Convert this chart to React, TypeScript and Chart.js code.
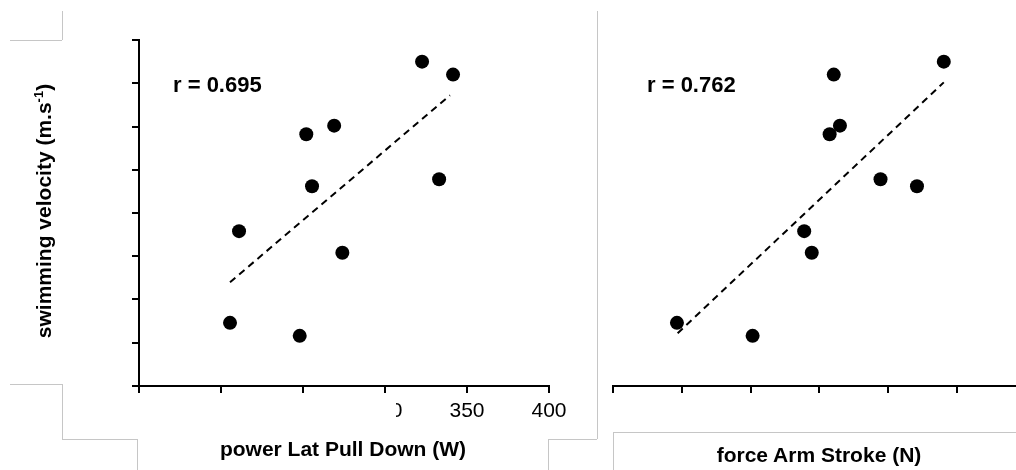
import React, { useEffect, useRef } from "react";
import { Chart, registerables } from "chart.js";

Chart.register(...registerables);

// ---- data ----
const velocity = [1.273, 1.379, 1.258, 1.491, 1.431, 1.501, 1.354, 1.575, 1.439, 1.56];
const powerLatPullDown = [205.5, 211, 248, 252, 255.5, 269, 274, 322.6, 333, 341.5];
const forceArmStroke = [59.3, 77.8, 70.3, 81.5, 94.2, 83.0, 78.9, 98.1, 88.9, 82.1];

const powerTrendX = [205.5, 339.6];
const powerTrendY = [1.32, 1.536];
const forceTrendX = [59.4, 98.1];
const forceTrendY = [1.261, 1.551];

const velocityTicks = [1.2, 1.25, 1.3, 1.35, 1.4, 1.45, 1.5, 1.55, 1.6];
const powerTicks = [150, 200, 250, 300, 350, 400];
const powerTickLabels = ["", "", "", "300", "350", "400"];
const forceTicks = [50, 60, 70, 80, 90, 100];

const rPower = "r = 0.695";
const rForce = "r = 0.762";

const FONT = '"Liberation Sans", Arial, Helvetica, sans-serif';
const W = 1016;
const H = 470;

function pts(xs: number[], ys: number[]) {
  return xs.map((x, i) => ({ x, y: ys[i] }));
}

function axisStyle(tickLen: number) {
  return {
    grid: {
      display: true,
      drawOnChartArea: false,
      drawTicks: true,
      tickLength: tickLen,
      color: "#000",
      lineWidth: 2,
    },
    border: { display: true, color: "#000", width: 2 },
  };
}

function makeConfig(opts: {
  xs: number[];
  trendX: number[];
  trendY: number[];
  xMin: number;
  xMax: number;
  xTicks: number[];
  xLabels: string[] | null;
  showY: boolean;
  padding: { left: number; right: number; top: number; bottom: number };
}): any {
  return {
    type: "scatter",
    data: {
      datasets: [
        {
          type: "scatter",
          data: pts(opts.xs, velocity),
          pointRadius: 7,
          pointHoverRadius: 7,
          pointBackgroundColor: "#000",
          pointBorderWidth: 0,
          borderColor: "#000",
          clip: false,
        },
        {
          type: "line",
          data: pts(opts.trendX, opts.trendY),
          showLine: true,
          borderColor: "#000",
          borderWidth: 2,
          borderDash: [7, 5],
          pointRadius: 0,
          fill: false,
        },
      ],
    },
    options: {
      responsive: false,
      animation: false,
      events: [],
      layout: { padding: opts.padding, autoPadding: false },
      plugins: { legend: { display: false }, tooltip: { enabled: false } },
      scales: {
        x: {
          type: "linear",
          min: opts.xMin,
          max: opts.xMax,
          afterBuildTicks: (s: any) => {
            s.ticks = opts.xTicks.map((v) => ({ value: v }));
          },
          afterFit: (s: any) => {
            s.height = 44;
          },
          ticks: {
            display: !!opts.xLabels,
            color: "#000",
            padding: 6,
            maxRotation: 0,
            autoSkip: false,
            font: { family: FONT, size: 21 },
            callback: (v: number) => {
              const i = opts.xTicks.indexOf(v);
              return opts.xLabels && i >= 0 ? opts.xLabels[i] : "";
            },
          },
          ...axisStyle(7),
        },
        y: {
          type: "linear",
          display: opts.showY,
          min: 1.2,
          max: 1.6,
          afterBuildTicks: (s: any) => {
            s.ticks = velocityTicks.map((v) => ({ value: v }));
          },
          afterFit: (s: any) => {
            s.width = opts.showY ? 7 : 0;
          },
          ticks: { display: false },
          ...axisStyle(7),
        },
      },
    },
  };
}

function ChartCanvas({ config }: { config: any }) {
  const ref = useRef<HTMLCanvasElement | null>(null);
  useEffect(() => {
    if (!ref.current) return;
    const chart = new Chart(ref.current, config);
    return () => chart.destroy();
  }, []);
  return (
    <canvas
      ref={ref}
      width={W}
      height={H}
      style={{ position: "absolute", left: 0, top: 0, width: W, height: H }}
    />
  );
}

const GREY = "#c6c6c6";
const frameLines: [number, number, number, number][] = [
  // [x1, y1, x2, y2]
  [10, 40, 62, 40],
  [62, 11, 62, 40],
  [10, 384, 62, 384],
  [62, 384, 62, 439],
  [62, 439, 137, 439],
  [137, 439, 137, 470],
  [597, 11, 597, 439],
  [548, 439, 597, 439],
  [548, 439, 548, 470],
  [613, 432, 1016, 432],
  [613, 432, 613, 470],
];

export default function App() {
  const leftCfg = makeConfig({
    xs: powerLatPullDown,
    trendX: powerTrendX,
    trendY: powerTrendY,
    xMin: 150,
    xMax: 400,
    xTicks: powerTicks,
    xLabels: powerTickLabels,
    showY: true,
    padding: { left: 132, right: W - 549, top: 40, bottom: H - 386 - 44 },
  });
  const rightCfg = makeConfig({
    xs: forceArmStroke,
    trendX: forceTrendX,
    trendY: forceTrendY,
    xMin: 50,
    xMax: 108.6,
    xTicks: forceTicks,
    xLabels: null,
    showY: false,
    padding: { left: 613, right: 0, top: 40, bottom: H - 386 - 44 },
  });

  const text: React.CSSProperties = {
    position: "absolute",
    fontFamily: FONT,
    fontWeight: "bold",
    color: "#000",
    whiteSpace: "nowrap",
    lineHeight: "normal",
  };

  return (
    <div
      style={{
        position: "fixed",
        left: 0,
        top: 0,
        width: W,
        height: H,
        background: "#fff",
        overflow: "hidden",
      }}
    >
      <ChartCanvas config={leftCfg} />
      <ChartCanvas config={rightCfg} />
      {/* white patch hiding part of a tick label, as in the source */}
      <div
        style={{
          position: "absolute",
          left: 141,
          top: 395,
          width: 255,
          height: 33,
          background: "#fff",
        }}
      />
      {frameLines.map(([x1, y1, x2, y2], i) => (
        <div
          key={i}
          style={{
            position: "absolute",
            left: Math.min(x1, x2),
            top: Math.min(y1, y2),
            width: Math.max(1, Math.abs(x2 - x1)),
            height: Math.max(1, Math.abs(y2 - y1)),
            background: GREY,
          }}
        />
      ))}
      <div style={{ ...text, fontSize: 22, left: 173, top: 72 }}>{rPower}</div>
      <div style={{ ...text, fontSize: 22, left: 647, top: 72 }}>{rForce}</div>
      <div
        style={{
          ...text,
          fontSize: 21,
          left: 44,
          top: 211,
          transform: "translate(-50%, -50%) rotate(-90deg)",
        }}
      >
        swimming velocity (m.s<sup style={{ fontSize: 13, lineHeight: 0 }}>-1</sup>)
      </div>
      <div
        style={{ ...text, fontSize: 21, left: 343, top: 437, transform: "translateX(-50%)" }}
      >
        power Lat Pull Down (W)
      </div>
      <div
        style={{ ...text, fontSize: 21, left: 819, top: 443, transform: "translateX(-50%)" }}
      >
        force Arm Stroke (N)
      </div>
    </div>
  );
}
